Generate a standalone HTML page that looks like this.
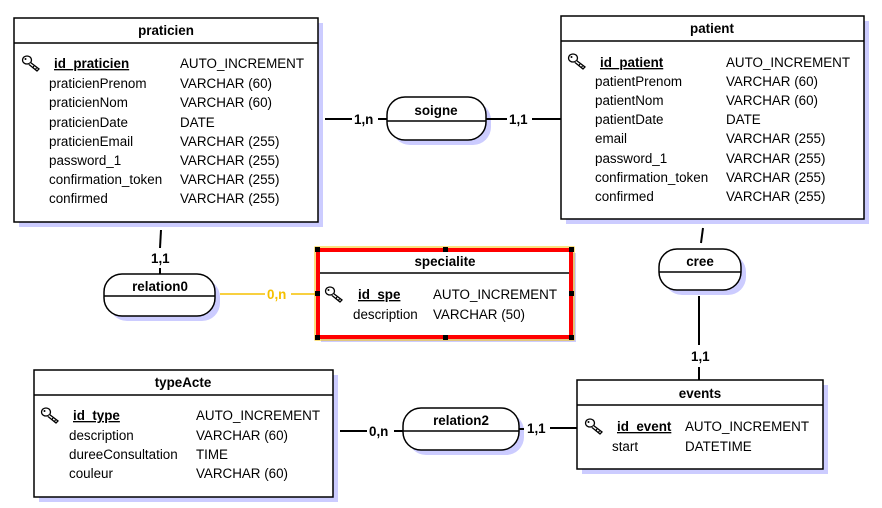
<!DOCTYPE html>
<html><head><meta charset="utf-8"><style>
html,body{margin:0;padding:0;background:#fff;}
svg{display:block;font-family:"Liberation Sans",Arial,sans-serif;font-size:13.4px;}
.t{font-weight:bold;text-anchor:middle;}
.b{font-weight:bold;text-decoration:underline;}
.c{font-weight:bold;}
</style></head><body>
<svg width="882" height="508" viewBox="0 0 882 508" xmlns="http://www.w3.org/2000/svg">
<defs>
<g id="key"><ellipse cx="5" cy="5" rx="4.5" ry="4" fill="#fff" stroke="#000" stroke-width="1.3"/><circle cx="3.5" cy="4" r="1" fill="#000"/><path d="M8.5 7.5 L17 14 L15 16 L7 9.5" fill="#fff" stroke="#000" stroke-width="1.3"/><path d="M12 11 l-1.5 2 M14.5 13 l-1.5 2" stroke="#000" stroke-width="1.2"/></g>
</defs>
<g fill="#ccccff">
<rect x="19" y="23" width="304" height="204"/>
<rect x="566" y="21" width="303" height="203"/>
<rect x="39" y="375" width="299" height="127"/>
<rect x="582" y="385" width="246" height="89"/>
<rect x="321" y="253" width="255" height="89"/>
<rect x="392" y="102" width="99" height="43" rx="18"/>
<rect x="664" y="254" width="82" height="41" rx="18"/>
<rect x="109" y="279" width="111" height="42" rx="18"/>
<rect x="408" y="413" width="116" height="42" rx="18"/>
</g>
<g stroke="#000" stroke-width="2" fill="none">
<line x1="325" y1="119" x2="352" y2="119"/><line x1="378" y1="119" x2="387" y2="119"/>
<line x1="486" y1="119" x2="507" y2="119"/><line x1="532" y1="119" x2="561" y2="119"/>
<line x1="703" y1="228" x2="701" y2="243"/>
<line x1="699" y1="296" x2="699" y2="345"/><line x1="699" y1="367" x2="699" y2="380"/>
<line x1="161" y1="230" x2="160" y2="248"/><line x1="160" y1="268" x2="160" y2="274"/>
<line x1="340" y1="431" x2="367" y2="431"/><line x1="394" y1="431" x2="403" y2="431"/>
<line x1="519" y1="429" x2="524" y2="429"/><line x1="550" y1="428" x2="577" y2="428"/>
</g>
<line x1="220" y1="294" x2="265" y2="294" stroke="#f5c000" stroke-width="1.5"/>
<line x1="291" y1="294" x2="316" y2="294" stroke="#f5c000" stroke-width="1.5"/>
<g class="c">
<text x="354" y="124">1,n</text><text x="509" y="124">1,1</text>
<text x="691" y="361">1,1</text><text x="151" y="263">1,1</text>
<text x="369" y="436">0,n</text><text x="527" y="433">1,1</text>
<text x="267" y="299" fill="#f5c000">0,n</text>
</g>
<g fill="#fff" stroke="#000" stroke-width="1.5">
<rect x="14" y="18" width="304" height="204"/>
<rect x="561" y="16" width="303" height="203"/>
<rect x="34" y="370" width="299" height="127"/>
<rect x="577" y="380" width="246" height="89"/>
<rect x="387" y="97" width="99" height="43" rx="18"/>
<rect x="659" y="249" width="82" height="41" rx="18"/>
<rect x="104" y="274" width="111" height="42" rx="18"/>
<rect x="403" y="408" width="116" height="42" rx="18"/>
</g>
<rect x="315" y="247" width="259" height="93" fill="none" stroke="#f5c000" stroke-width="1"/>
<rect x="318" y="250" width="253" height="87" fill="#fff" stroke="#f00" stroke-width="4"/>
<g fill="#000">
<rect x="315" y="247" width="5" height="5"/><rect x="443" y="247" width="5" height="5"/><rect x="569" y="247" width="5" height="5"/>
<rect x="315" y="291" width="5" height="5"/><rect x="569" y="291" width="5" height="5"/>
<rect x="315" y="335" width="5" height="5"/><rect x="443" y="335" width="5" height="5"/><rect x="569" y="335" width="5" height="5"/>
</g>
<g stroke="#000" stroke-width="1.5">
<line x1="14" y1="43" x2="318" y2="43"/>
<line x1="561" y1="41" x2="864" y2="41"/>
<line x1="34" y1="395" x2="333" y2="395"/>
<line x1="577" y1="405" x2="823" y2="405"/>
<line x1="320" y1="273" x2="569" y2="273"/>
<line x1="387" y1="121" x2="486" y2="121"/>
<line x1="659" y1="272" x2="741" y2="272"/>
<line x1="104" y1="296" x2="215" y2="296"/>
<line x1="403" y1="431" x2="519" y2="431"/>
</g>
<g class="t">
<text x="166" y="35">praticien</text>
<text x="712" y="33">patient</text>
<text x="445" y="266">specialite</text>
<text x="183" y="387">typeActe</text>
<text x="700" y="398">events</text>
<text x="436" y="115">soigne</text>
<text x="700" y="266">cree</text>
<text x="160" y="291">relation0</text>
<text x="461" y="425">relation2</text>
</g>
<use href="#key" x="22" y="55"/>
<text x="54" y="68" class="b">id_praticien</text>
<text x="49" y="88">praticienPrenom</text><text x="49" y="107">praticienNom</text><text x="49" y="127">praticienDate</text>
<text x="49" y="146">praticienEmail</text><text x="49" y="165">password_1</text><text x="49" y="184">confirmation_token</text><text x="49" y="203">confirmed</text>
<text x="180" y="68">AUTO_INCREMENT</text><text x="180" y="88">VARCHAR (60)</text><text x="180" y="107">VARCHAR (60)</text><text x="180" y="127">DATE</text>
<text x="180" y="146">VARCHAR (255)</text><text x="180" y="165">VARCHAR (255)</text><text x="180" y="184">VARCHAR (255)</text><text x="180" y="203">VARCHAR (255)</text>
<use href="#key" x="568" y="53"/>
<text x="600" y="67" class="b">id_patient</text>
<text x="595" y="86">patientPrenom</text><text x="595" y="105">patientNom</text><text x="595" y="124">patientDate</text>
<text x="595" y="143">email</text><text x="595" y="163">password_1</text><text x="595" y="182">confirmation_token</text><text x="595" y="201">confirmed</text>
<text x="726" y="67">AUTO_INCREMENT</text><text x="726" y="86">VARCHAR (60)</text><text x="726" y="105">VARCHAR (60)</text><text x="726" y="124">DATE</text>
<text x="726" y="143">VARCHAR (255)</text><text x="726" y="163">VARCHAR (255)</text><text x="726" y="182">VARCHAR (255)</text><text x="726" y="201">VARCHAR (255)</text>
<use href="#key" x="325" y="286"/>
<text x="358" y="299" class="b">id_spe</text>
<text x="353" y="319">description</text>
<text x="433" y="299">AUTO_INCREMENT</text><text x="433" y="319">VARCHAR (50)</text>
<use href="#key" x="41" y="407"/>
<text x="73" y="420" class="b">id_type</text>
<text x="69" y="440">description</text><text x="69" y="459">dureeConsultation</text><text x="69" y="478">couleur</text>
<text x="196" y="420">AUTO_INCREMENT</text><text x="196" y="440">VARCHAR (60)</text><text x="196" y="459">TIME</text><text x="196" y="478">VARCHAR (60)</text>
<use href="#key" x="585" y="418"/>
<text x="617" y="431" class="b">id_event</text>
<text x="612" y="451">start</text>
<text x="685" y="431">AUTO_INCREMENT</text><text x="685" y="451">DATETIME</text>
</svg>
</body></html>
